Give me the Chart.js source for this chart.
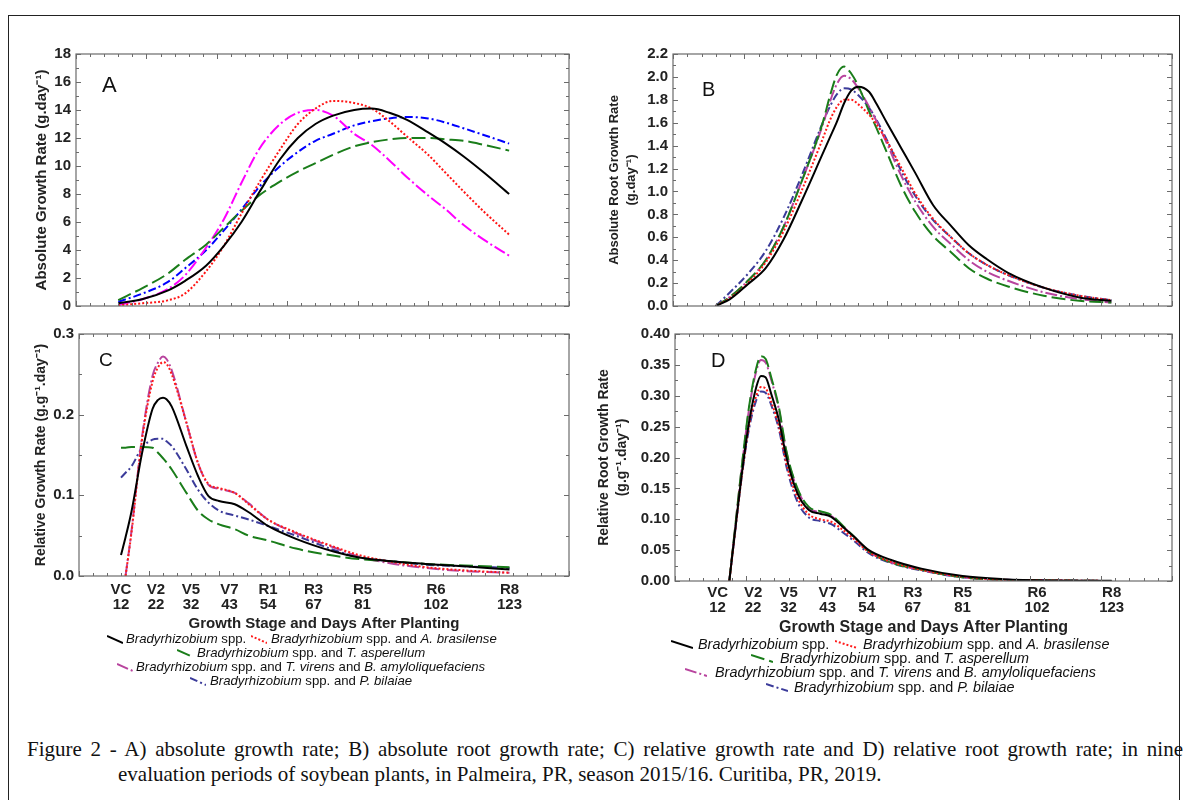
<!DOCTYPE html>
<html>
<head>
<meta charset="utf-8">
<script src="https://cdn.jsdelivr.net/npm/chart.js@4.4.0/dist/chart.umd.min.js"></script>
<style>
  body { margin: 0; background: #fff; width: 1186px; height: 800px; overflow: hidden; position: relative; font-family: "Liberation Sans", Arial, sans-serif; }
  canvas { position: absolute; }
  .frame { position: absolute; left: 8px; top: 15px; width: 1170px; height: 820px; border: 1.5px solid #222; }
  .lbl { position: absolute; line-height: 1; color: #111; }
  .leg { position: absolute; white-space: nowrap; line-height: 14px; color: #111; }
  .sample { position: absolute; }
  .cap { position: absolute; font-family: "Liberation Serif", "Times New Roman", serif; font-size: 21px; line-height: 21px; color: #111; }
</style>
</head>
<body>
<div class="frame"></div>
<canvas id="cA" width="580" height="280" style="left:0;top:40px"></canvas>
<canvas id="cB" width="593" height="280" style="left:590px;top:40px"></canvas>
<canvas id="cC" width="580" height="315" style="left:0;top:320px"></canvas>
<canvas id="cD" width="593" height="322" style="left:590px;top:320px"></canvas>

<div class="lbl" style="left:102px;top:74px;font-size:22px">A</div>
<div class="lbl" style="left:702px;top:79px;font-size:20px">B</div>
<div class="lbl" style="left:99px;top:350px;font-size:19px">C</div>
<div class="lbl" style="left:711px;top:350px;font-size:20px">D</div>

<div id="legs"></div>

<div class="cap" style="left:27px;top:739px;width:1156px;text-align:justify;text-align-last:justify">Figure 2 - A) absolute growth rate; B) absolute root growth rate; C) relative growth rate and D) relative root growth rate; in nine</div>
<div class="cap" style="left:118px;top:764px;white-space:nowrap">evaluation periods of soybean plants, in Palmeira, PR, season 2015/16. Curitiba, PR, 2019.</div>

<script>
Chart.defaults.font.family = '"Liberation Sans", Arial, sans-serif'
Chart.defaults.color = '#222'
Chart.defaults.animation = false

// growth stages and days after planting
const stages = ['VC', 'V2', 'V5', 'V7', 'R1', 'R3', 'R5', 'R6', 'R8']
const stageDays = [12, 22, 32, 43, 54, 67, 81, 102, 123]

const seriesNames = [
  '<i>Bradyrhizobium</i> spp.',
  '<i>Bradyrhizobium</i> spp. and <i>A. brasilense</i>',
  '<i>Bradyrhizobium</i> spp. and <i>T. asperellum</i>',
  '<i>Bradyrhizobium</i> spp. and <i>T. virens</i> and <i>B. amyloliquefaciens</i>',
  '<i>Bradyrhizobium</i> spp. and <i>P. bilaiae</i>'
]

// A) absolute growth rate
const daysA = [12, 19, 26, 31, 37, 42, 47, 52, 58, 63, 68, 73, 79, 84, 89, 94, 100, 105, 110, 116, 123]
const agrBrady   = [0.2, 0.5, 1.1, 1.8, 2.9, 4.3, 6.0, 8.1, 10.5, 12.0, 13.0, 13.6, 14.0, 14.1, 13.8, 13.3, 12.4, 11.6, 10.7, 9.5, 8.0]
const agrAzo     = [0.05, 0.2, 0.4, 0.9, 2.5, 4.3, 6.6, 8.8, 11.2, 13.0, 14.1, 14.65, 14.5, 14.1, 13.2, 12.1, 10.8, 9.5, 8.2, 6.7, 5.1]
const agrAsper   = [0.42, 1.3, 2.3, 3.3, 4.4, 5.6, 6.8, 7.9, 8.9, 9.6, 10.2, 10.8, 11.4, 11.7, 11.9, 12.0, 12.0, 11.9, 11.8, 11.5, 11.1]
const agrVirens  = [0.07, 0.5, 1.2, 2.2, 4.2, 6.2, 8.8, 11.2, 13.0, 13.8, 14.0, 13.6, 12.3, 11.5, 10.4, 9.2, 7.9, 6.9, 5.8, 4.7, 3.6]
const agrBilaiae = [0.3, 0.9, 1.7, 2.7, 4.0, 5.4, 6.9, 8.5, 10.0, 11.0, 11.8, 12.3, 12.9, 13.2, 13.4, 13.5, 13.4, 13.1, 12.7, 12.2, 11.6]

// B) absolute root growth rate
const daysB = [12, 16, 21, 26, 31, 36, 42, 44, 46, 48, 50, 52, 55, 57, 60, 64, 68, 73, 78, 83, 88, 94, 104, 114, 123]
const argrBrady   = [0, 0.06, 0.19, 0.33, 0.58, 0.91, 1.33, 1.47, 1.61, 1.77, 1.88, 1.915, 1.87, 1.77, 1.60, 1.38, 1.16, 0.88, 0.70, 0.53, 0.41, 0.29, 0.16, 0.075, 0.045]
const argrAzo     = [0, 0.07, 0.20, 0.38, 0.65, 1.00, 1.46, 1.62, 1.74, 1.80, 1.80, 1.76, 1.67, 1.59, 1.44, 1.21, 0.98, 0.76, 0.60, 0.46, 0.36, 0.27, 0.16, 0.09, 0.05]
const argrAsper   = [0, 0.08, 0.22, 0.40, 0.69, 1.08, 1.60, 1.83, 2.02, 2.09, 2.03, 1.92, 1.70, 1.56, 1.34, 1.05, 0.82, 0.61, 0.47, 0.33, 0.24, 0.17, 0.09, 0.045, 0.03]
const argrVirens  = [0, 0.08, 0.22, 0.40, 0.69, 1.08, 1.58, 1.78, 1.94, 2.01, 1.98, 1.90, 1.74, 1.62, 1.42, 1.14, 0.91, 0.69, 0.54, 0.40, 0.30, 0.22, 0.12, 0.06, 0.03]
const argrBilaiae = [0, 0.12, 0.28, 0.48, 0.77, 1.13, 1.60, 1.74, 1.85, 1.90, 1.89, 1.84, 1.73, 1.63, 1.45, 1.18, 0.96, 0.75, 0.60, 0.46, 0.36, 0.27, 0.16, 0.09, 0.05]

// C) relative growth rate
const daysC = [12, 13.3, 15, 18, 21, 22.5, 24, 25, 26.5, 30.7, 34, 37, 40, 44.5, 48.5, 54, 62, 73, 80, 90, 99, 110, 123]
const rgrBrady   = [0.026, 0.048, 0.08, 0.152, 0.207, 0.218, 0.221, 0.219, 0.21, 0.161, 0.124, 0.099, 0.093, 0.089, 0.079, 0.062, 0.046, 0.030, 0.023, 0.018, 0.015, 0.012, 0.008]
const rgrAzo     = [null, 0, 0.054, 0.169, 0.241, 0.258, 0.265, 0.263, 0.25, 0.19, 0.14, 0.114, 0.109, 0.103, 0.089, 0.07, 0.054, 0.036, 0.026, 0.017, 0.011, 0.007, 0.004]
const rgrAsper   = [0.159, 0.159, 0.16, 0.16, 0.159, 0.153, 0.146, 0.141, 0.132, 0.103, 0.081, 0.070, 0.064, 0.058, 0.050, 0.044, 0.034, 0.025, 0.021, 0.018, 0.015, 0.013, 0.011]
const rgrVirens  = [null, 0, 0.056, 0.172, 0.248, 0.264, 0.272, 0.269, 0.255, 0.19, 0.14, 0.113, 0.108, 0.103, 0.09, 0.07, 0.053, 0.035, 0.024, 0.015, 0.010, 0.006, 0.004]
const rgrBilaiae = [0.122, 0.128, 0.136, 0.159, 0.169, 0.170, 0.170, 0.167, 0.161, 0.132, 0.107, 0.091, 0.081, 0.075, 0.070, 0.062, 0.050, 0.032, 0.023, 0.018, 0.014, 0.012, 0.010]

// D) relative root growth rate
const daysD = [15.3, 17, 18.7, 20.8, 22.9, 24.2, 25.5, 27.1, 29.3, 31.4, 34.5, 37.7, 40.9, 44, 47.2, 50.4, 54.6, 60.9, 69.4, 81, 92.6, 105, 123]
const rrgrBrady   = [0, 0.085, 0.168, 0.255, 0.314, 0.332, 0.330, 0.303, 0.26, 0.20, 0.142, 0.115, 0.109, 0.104, 0.088, 0.072, 0.05, 0.034, 0.020, 0.008, 0.003, 0.001, 0.0005]
const rrgrAzo     = [0, 0.083, 0.165, 0.25, 0.30, 0.314, 0.312, 0.29, 0.25, 0.19, 0.135, 0.108, 0.100, 0.096, 0.083, 0.068, 0.047, 0.031, 0.018, 0.007, 0.002, 0.001, 0]
const rrgrAsper   = [0, 0.09, 0.18, 0.28, 0.345, 0.364, 0.360, 0.33, 0.28, 0.21, 0.15, 0.12, 0.113, 0.107, 0.09, 0.072, 0.048, 0.030, 0.018, 0.006, 0.002, 0.001, 0]
const rrgrVirens  = [0, 0.089, 0.178, 0.276, 0.34, 0.358, 0.354, 0.326, 0.277, 0.208, 0.148, 0.118, 0.111, 0.105, 0.089, 0.071, 0.048, 0.030, 0.018, 0.006, 0.002, 0.001, 0]
const rrgrBilaiae = [0, 0.083, 0.165, 0.245, 0.293, 0.307, 0.305, 0.285, 0.245, 0.185, 0.128, 0.103, 0.097, 0.092, 0.079, 0.065, 0.045, 0.029, 0.017, 0.006, 0.002, 0.001, 0]

// line styles: A uses bright colours, B-D the darker ones
const stylesA = [
  { c: '#000000', d: [] },
  { c: '#ff1414', d: [2, 2] },
  { c: '#1a7d1a', d: [14, 5] },
  { c: '#ff00ff', d: [12, 3, 2, 3] },
  { c: '#0000ff', d: [8, 3, 2, 3] }
]
const stylesB = [
  { c: '#000000', d: [] },
  { c: '#ff1a1a', d: [2, 2] },
  { c: '#1a7d1a', d: [14, 5] },
  { c: '#b8449e', d: [12, 3, 2, 3] },
  { c: '#3b3b9a', d: [8, 3, 2, 3] }
]

function makeSets(days, list, styles) {
  return list.map((vals, k) => ({
    label: seriesNames[k].replace(/<[^>]+>/g, ''),
    data: days.map((d, i) => ({ x: d, y: vals[i] })),
    borderColor: styles[k].c,
    borderDash: styles[k].d,
    borderWidth: 2,
    pointRadius: 0,
    cubicInterpolationMode: 'monotone',
    fill: false
  }))
}

// plot frame with small inward ticks on all four sides
const frameTicks = {
  id: 'frameTicks',
  afterDraw(chart) {
    const { ctx, chartArea: a, scales: { x, y } } = chart
    const step = y.options.ticks.stepSize
    ctx.save()
    ctx.strokeStyle = '#6b6b6b'
    ctx.lineWidth = 1.2
    ctx.strokeRect(a.left, a.top, a.right - a.left, a.bottom - a.top)
    ctx.lineWidth = 1
    ctx.beginPath()
    for (let d = 0; d <= 140; d += 4) {
      const px = Math.round(x.getPixelForValue(d)) + 0.5
      const len = d % 20 === 0 ? 5 : 3
      ctx.moveTo(px, a.bottom); ctx.lineTo(px, a.bottom - len)
      ctx.moveTo(px, a.top); ctx.lineTo(px, a.top + len)
    }
    for (let i = 0; i <= Math.round((y.max - y.min) / step) * 2; i++) {
      const py = Math.round(y.getPixelForValue(y.min + i * step / 2)) + 0.5
      const len = i % 2 === 0 ? 5 : 3
      ctx.moveTo(a.left, py); ctx.lineTo(a.left + len, py)
      ctx.moveTo(a.right, py); ctx.lineTo(a.right - len, py)
    }
    ctx.stroke()
    ctx.restore()
  }
}

function yAxis(max, step, dec, title, titleSize, titlePad, width) {
  return {
    min: 0,
    max: max,
    ticks: { stepSize: step, padding: 5, font: { size: 15, weight: 'bold' }, callback: v => v.toFixed(dec) },
    grid: { display: false, drawTicks: false },
    border: { display: false },
    title: { display: true, text: title, font: { size: titleSize, weight: 'bold', lineHeight: 1.3 }, padding: { top: titlePad, bottom: 0 } },
    afterFit: s => { s.width = width }
  }
}

function xStages(pad, titleSize, titlePad, height) {
  return {
    type: 'linear',
    min: 0,
    max: 140,
    afterBuildTicks: s => { s.ticks = stageDays.map(v => ({ value: v })) },
    ticks: {
      autoSkip: false, maxRotation: 0, padding: pad,
      font: { size: 15, weight: 'bold', lineHeight: 1 },
      callback: v => [stages[stageDays.indexOf(v)], String(v)]
    },
    grid: { display: false, drawTicks: false },
    border: { display: false },
    title: { display: true, text: 'Growth Stage and Days After Planting', font: { size: titleSize, weight: 'bold' }, padding: { top: 0, bottom: titlePad } },
    afterFit: s => { s.height = height }
  }
}

const xHidden = { type: 'linear', min: 0, max: 140, display: false }

function makeChart(id, sets, xScale, yScale, pad) {
  new Chart(document.getElementById(id), {
    type: 'line',
    data: { datasets: sets },
    options: {
      responsive: false,
      layout: { padding: pad },
      plugins: { legend: { display: false }, tooltip: { enabled: false } },
      scales: { x: xScale, y: yScale }
    },
    plugins: [frameTicks]
  })
}

makeChart('cA',
  makeSets(daysA, [agrBrady, agrAzo, agrAsper, agrVirens, agrBilaiae], stylesA),
  xHidden,
  yAxis(18, 2, 0, 'Absolute Growth Rate (g.day\u207B\u00B9)', 15, 32, 76),
  { top: 12, right: 11, bottom: 11, left: 0 })

makeChart('cB',
  makeSets(daysB, [argrBrady, argrAzo, argrAsper, argrVirens, argrBilaiae], stylesB),
  xHidden,
  yAxis(2.2, 0.2, 1, ['Absolute Root Growth Rate', '(g.day\u207B\u00B9)'], 13, 16, 83),
  { top: 11, right: 11, bottom: 12, left: 0 })

makeChart('cC',
  makeSets(daysC, [rgrBrady, rgrAzo, rgrAsper, rgrVirens, rgrBilaiae], stylesB),
  xStages(6, 15, 2, 59),
  yAxis(0.3, 0.1, 1, 'Relative Growth Rate (g.g\u207B\u00B9.day\u207B\u00B9)', 14, 32, 79),
  { top: 13, right: 11, bottom: 0, left: 0 })

makeChart('cD',
  makeSets(daysD, [rrgrBrady, rrgrAzo, rrgrAsper, rrgrVirens, rrgrBilaiae], stylesB),
  xStages(4, 16, 5, 61),
  yAxis(0.4, 0.05, 2, ['Relative Root Growth Rate', '(g.g\u207B\u00B9.day\u207B\u00B9)'], 14, 5, 85),
  { top: 13, right: 11, bottom: 0, left: 0 })

// legends below panels C and D: [series, sample left, text left, row centre y]
const legendC = [[0, 107, 126, 639], [1, 251, 271, 639], [2, 177, 197, 653], [3, 117, 136, 667], [4, 190, 210, 681]]
const legendD = [[0, 671, 698, 644], [1, 835, 863, 644], [2, 751, 780, 658], [3, 685, 715, 672], [4, 766, 794, 687]]

function drawLegend(items, sw, fontSize) {
  const box = document.getElementById('legs')
  items.forEach(([k, sx, tx, cy]) => {
    const st = stylesB[k]
    const svg = document.createElementNS('http://www.w3.org/2000/svg', 'svg')
    svg.setAttribute('class', 'sample')
    svg.setAttribute('width', sw)
    svg.setAttribute('height', 10)
    svg.style.left = sx + 'px'
    svg.style.top = (cy - 4) + 'px'
    const ln = document.createElementNS('http://www.w3.org/2000/svg', 'line')
    ln.setAttribute('x1', 0); ln.setAttribute('y1', 1)
    ln.setAttribute('x2', sw); ln.setAttribute('y2', 8)
    ln.setAttribute('stroke', st.c)
    ln.setAttribute('stroke-width', 2)
    if (st.d.length) ln.setAttribute('stroke-dasharray', st.d.join(' '))
    svg.appendChild(ln)
    box.appendChild(svg)
    const t = document.createElement('div')
    t.className = 'leg'
    t.style.left = tx + 'px'
    t.style.top = (cy - 7) + 'px'
    t.style.fontSize = fontSize + 'px'
    t.innerHTML = seriesNames[k]
    box.appendChild(t)
  })
}
drawLegend(legendC, 16, 13.2)
drawLegend(legendD, 22, 14.4)
</script>
</body>
</html>
